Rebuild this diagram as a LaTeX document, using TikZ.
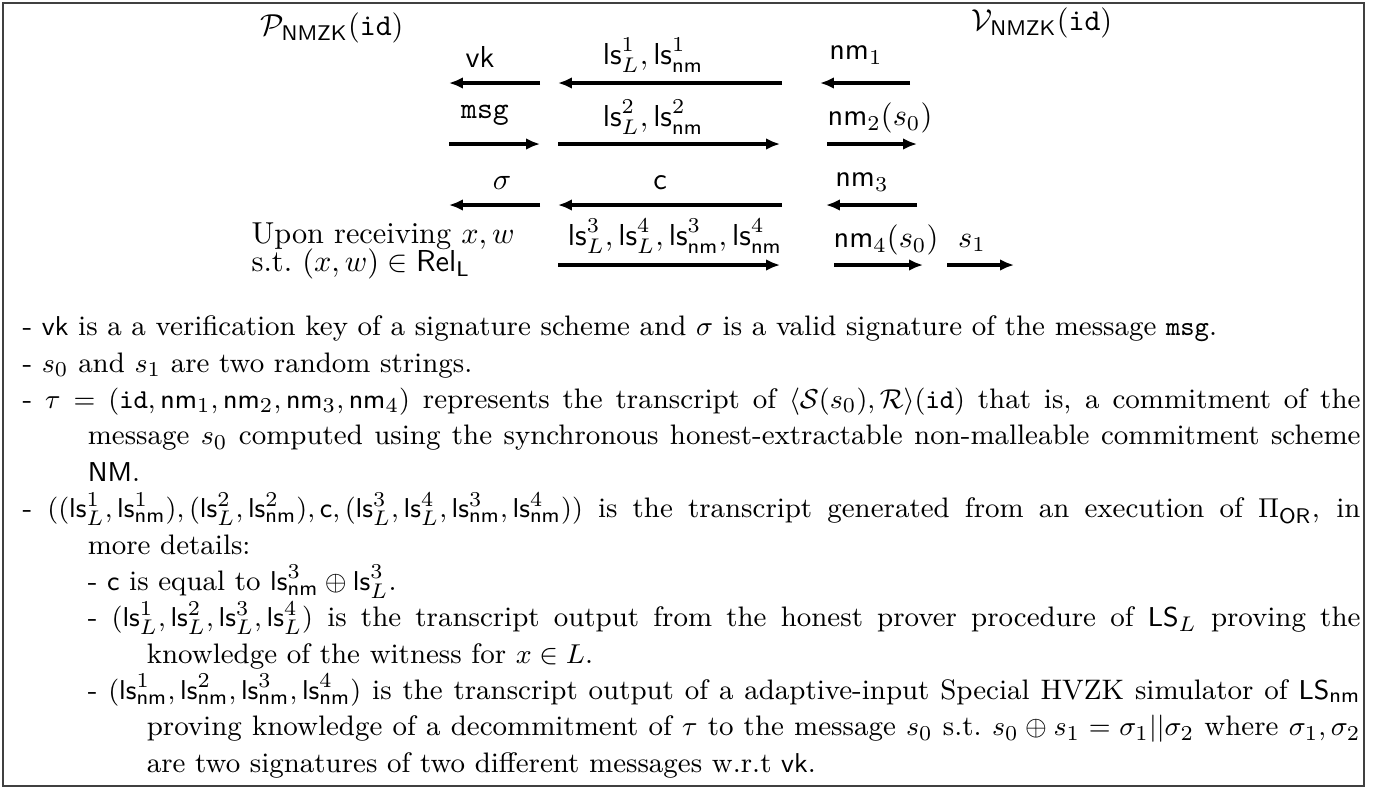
\documentclass[tikz,border=0pt]{standalone}
\usepackage{amsmath,amssymb}
\usetikzlibrary{arrows.meta,positioning}
\newcommand{\lsL}[1]{\mathsf{ls}^{#1}_{L}}
\newcommand{\lsN}[1]{\mathsf{ls}^{#1}_{\mathsf{nm}}}
\newcommand{\nmv}[1]{\mathsf{nm}_{#1}}
\newcommand{\vkey}{\mathsf{vk}}
\newcommand{\msgt}{\mathtt{msg}}
\newcommand{\idt}{\mathtt{id}}
\newcommand{\noteitem}{\hangindent=21.5pt\hangafter=1 - }
\newcommand{\notesubitem}{\hangindent=41pt\hangafter=1\hspace*{21.5pt}- }
\tikzset{
  msgarrow/.style={-{Latex[length=4.6pt,width=3.9pt]},line width=1pt},
  msglabel/.style={inner sep=0pt},
  party/.style={inner sep=0pt},
  outerframe/.style={draw=black!75,line width=0.45pt},
  notes/.style={inner sep=0pt,anchor=north west,text width=441.5pt,align=justify,
    font=\fontsize{9.3pt}{12pt}\selectfont},
}

\begin{document}
\begin{tikzpicture}[x=0.33pt,y=-0.33pt]
  \useasboundingbox (0,0) rectangle (1382,789);
  \draw[outerframe] (3,3) rectangle (1364,786);
  % the two parties
  \node[party] (prover) at (332,28) {$\mathcal{P}_{\mathsf{NMZK}}(\idt)$};
  \node[party] (verifier) at (1042,23) {$\mathcal{V}_{\mathsf{NMZK}}(\idt)$};
  % round 1
  \coordinate (vk-s) at (540,83);  \coordinate (vk-e) at (449,83);
  \coordinate (ls1-s) at (782,83); \coordinate (ls1-e) at (558,83);
  \coordinate (nm1-s) at (910,83); \coordinate (nm1-e) at (820,83);
  \node[msglabel] (vk) at (480,57) {$\vkey$};
  \node[msglabel] (ls1) at (653,55) {$\lsL{1},\lsN{1}$};
  \node[msglabel] (nm1) at (856,55) {$\nmv{1}$};
  \draw[msgarrow] (vk-s) -- (vk-e);
  \draw[msgarrow] (ls1-s) -- (ls1-e);
  \draw[msgarrow] (nm1-s) -- (nm1-e);
  % round 2
  \coordinate (msg-s) at (449,144); \coordinate (msg-e) at (540,144);
  \coordinate (ls2-s) at (558,144); \coordinate (ls2-e) at (780,144);
  \coordinate (nm2-s) at (827,144); \coordinate (nm2-e) at (917,144);
  \node[msglabel] (msg) at (485,115) {$\msgt$};
  \node[msglabel] (ls2) at (653,117) {$\lsL{2},\lsN{2}$};
  \node[msglabel] (nm2) at (880,118) {$\nmv{2}(s_0)$};
  \draw[msgarrow] (msg-s) -- (msg-e);
  \draw[msgarrow] (ls2-s) -- (ls2-e);
  \draw[msgarrow] (nm2-s) -- (nm2-e);
  % round 3
  \coordinate (sig-s) at (540,205);  \coordinate (sig-e) at (449,205);
  \coordinate (chal-s) at (782,205); \coordinate (chal-e) at (558,205);
  \coordinate (nm3-s) at (917,205);  \coordinate (nm3-e) at (826,205);
  \node[msglabel] (sig) at (502,183) {$\sigma$};
  \node[msglabel] (chal) at (660,183) {$\mathsf{c}$};
  \node[msglabel] (nm3) at (862,182) {$\nmv{3}$};
  \draw[msgarrow] (sig-s) -- (sig-e);
  \draw[msgarrow] (chal-s) -- (chal-e);
  \draw[msgarrow] (nm3-s) -- (nm3-e);
  % round 4
  \coordinate (ls3-s) at (558,265); \coordinate (ls3-e) at (780,265);
  \coordinate (nm4-s) at (834,265); \coordinate (nm4-e) at (923,265);
  \coordinate (s1-s) at (947,265);  \coordinate (s1-e) at (1014,265);
  \node[msglabel,anchor=west,align=left] (recv) at (251,251)
    {Upon receiving $x,w$\\[-2.6pt]s.t.\ $(x,w)\in\mathsf{Rel}_{\mathsf{L}}$};
  \node[msglabel] (ls3) at (675,236) {$\lsL{3},\lsL{4},\lsN{3},\lsN{4}$};
  \node[msglabel] (nm4) at (886,240) {$\nmv{4}(s_0)$};
  \node[msglabel] (s1) at (972,243) {$s_1$};
  \draw[msgarrow] (ls3-s) -- (ls3-e);
  \draw[msgarrow] (nm4-s) -- (nm4-e);
  \draw[msgarrow] (s1-s) -- (s1-e);
  % explanations
  \node[notes] (notes) at (22,315.4) {\parindent=0pt\hyphenpenalty=10000\exhyphenpenalty=10000
    \noteitem $\vkey$ is a a verification key of a signature scheme and $\sigma$ is a valid signature of the message $\msgt$.\par
    \noteitem $s_0$ and $s_1$ are two random strings.\par
    \noteitem $\tau=(\idt,\nmv{1},\nmv{2},\nmv{3},\nmv{4})$ represents the transcript of $\langle\mathcal{S}(s_0),\mathcal{R}\rangle(\idt)$ that is, a commitment of the\linebreak{} message $s_0$ computed using the synchronous honest-extractable non-malleable commitment scheme\linebreak{} $\mathsf{NM}$.\par
    \noteitem $((\lsL{1},\lsN{1}),(\lsL{2},\lsN{2}),\mathsf{c},(\lsL{3},\lsL{4},\lsN{3},\lsN{4}))$ is the transcript generated from an execution of $\Pi_{\mathsf{OR}}$, in\linebreak{} more details:\par
    \notesubitem $\mathsf{c}$ is equal to $\lsN{3}\oplus\lsL{3}$.\par
    \notesubitem $(\lsL{1},\lsL{2},\lsL{3},\lsL{4})$ is the transcript output from the honest prover procedure of $\mathsf{LS}_L$ proving the\linebreak{} knowledge of the witness for $x\in L$.\par
    \notesubitem $(\lsN{1},\lsN{2},\lsN{3},\lsN{4})$ is the transcript output of a adaptive-input Special HVZK simulator of $\mathsf{LS}_{\mathsf{nm}}$\linebreak{} proving knowledge of a decommitment of $\tau$ to the message $s_0$ s.t.\ $s_0\oplus s_1=\sigma_1||\sigma_2$ where $\sigma_1,\sigma_2$\linebreak{} are two signatures of two different messages w.r.t $\vkey$.\par};
\end{tikzpicture}
\end{document}
